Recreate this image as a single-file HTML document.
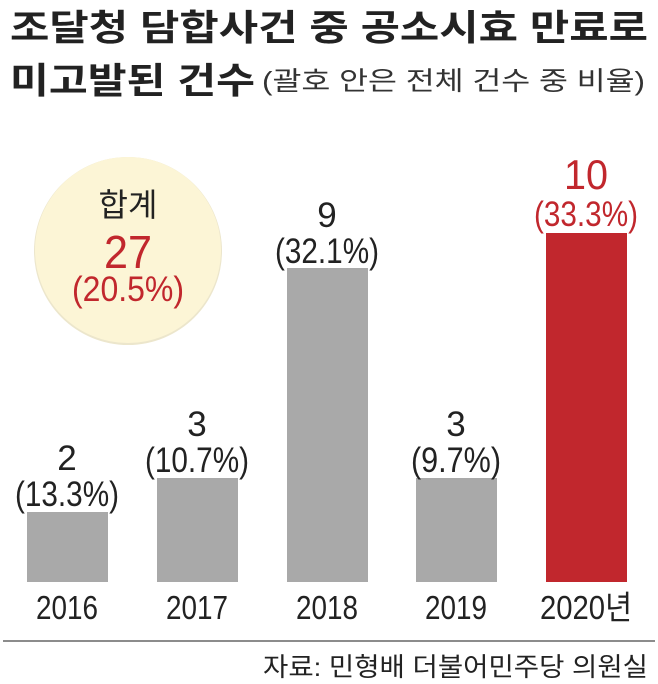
<!DOCTYPE html>
<html><head><meta charset="utf-8"><style>
html,body{margin:0;padding:0;background:#fff}
svg{display:block}
text{font-family:"Liberation Sans","Noto Sans CJK KR",sans-serif}
</style></head><body>
<svg width="658" height="684" viewBox="0 0 658 684">
<text x="10" y="40" font-size="36" font-weight="bold" fill="#222" textLength="638" lengthAdjust="spacingAndGlyphs">조달청 담합사건 중 공소시효 만료로</text>
<text x="10" y="93" font-size="36" font-weight="bold" fill="#222" textLength="245" lengthAdjust="spacingAndGlyphs">미고발된 건수</text>
<text x="262" y="90" font-size="26" fill="#333" textLength="383" lengthAdjust="spacingAndGlyphs">(괄호 안은 전체 건수 중 비율)</text>
<circle cx="128" cy="251" r="94" fill="#ece6cc"/>
<circle cx="128" cy="250" r="93" fill="#fcf5d6"/>
<text x="128" y="216" font-size="32" fill="#222" text-anchor="middle">합계</text>
<text x="128" y="268" font-size="46" fill="#c1272d" text-anchor="middle" textLength="48" lengthAdjust="spacingAndGlyphs">27</text>
<text x="128" y="301" font-size="35" fill="#c1272d" text-anchor="middle" textLength="112" lengthAdjust="spacingAndGlyphs">(20.5%)</text>
<g fill="#a9a9a9">
<rect x="27" y="512" width="81" height="70"/>
<rect x="157" y="478" width="81" height="104"/>
<rect x="287" y="268" width="81" height="314"/>
<rect x="416" y="478" width="81" height="104"/>
</g>
<rect x="546" y="233" width="81" height="349" fill="#c1272d"/>
<g font-size="35" fill="#222" text-anchor="middle">
<text x="67" y="470">2</text><text x="67" y="506" textLength="104" lengthAdjust="spacingAndGlyphs">(13.3%)</text>
<text x="197" y="436">3</text><text x="197" y="472" textLength="104" lengthAdjust="spacingAndGlyphs">(10.7%)</text>
<text x="327" y="227">9</text><text x="327" y="263" textLength="104" lengthAdjust="spacingAndGlyphs">(32.1%)</text>
<text x="456" y="436">3</text><text x="456" y="472" textLength="90" lengthAdjust="spacingAndGlyphs">(9.7%)</text>
</g>
<g fill="#c1272d" text-anchor="middle">
<text x="586" y="189" font-size="42" textLength="44" lengthAdjust="spacingAndGlyphs">10</text>
<text x="586" y="226" font-size="35" textLength="104" lengthAdjust="spacingAndGlyphs">(33.3%)</text>
</g>
<g font-size="33" fill="#222" text-anchor="middle">
<text x="67" y="619" textLength="62" lengthAdjust="spacingAndGlyphs">2016</text>
<text x="197" y="619" textLength="62" lengthAdjust="spacingAndGlyphs">2017</text>
<text x="327" y="619" textLength="62" lengthAdjust="spacingAndGlyphs">2018</text>
<text x="456" y="619" textLength="62" lengthAdjust="spacingAndGlyphs">2019</text>
<text x="586" y="619" textLength="92" lengthAdjust="spacingAndGlyphs">2020년</text>
</g>
<line x1="3" y1="641" x2="655" y2="641" stroke="#666" stroke-width="1.5"/>
<text x="648" y="676" font-size="26" fill="#222" text-anchor="end" textLength="385" lengthAdjust="spacingAndGlyphs">자료: 민형배 더불어민주당 의원실</text>
</svg>
</body></html>
